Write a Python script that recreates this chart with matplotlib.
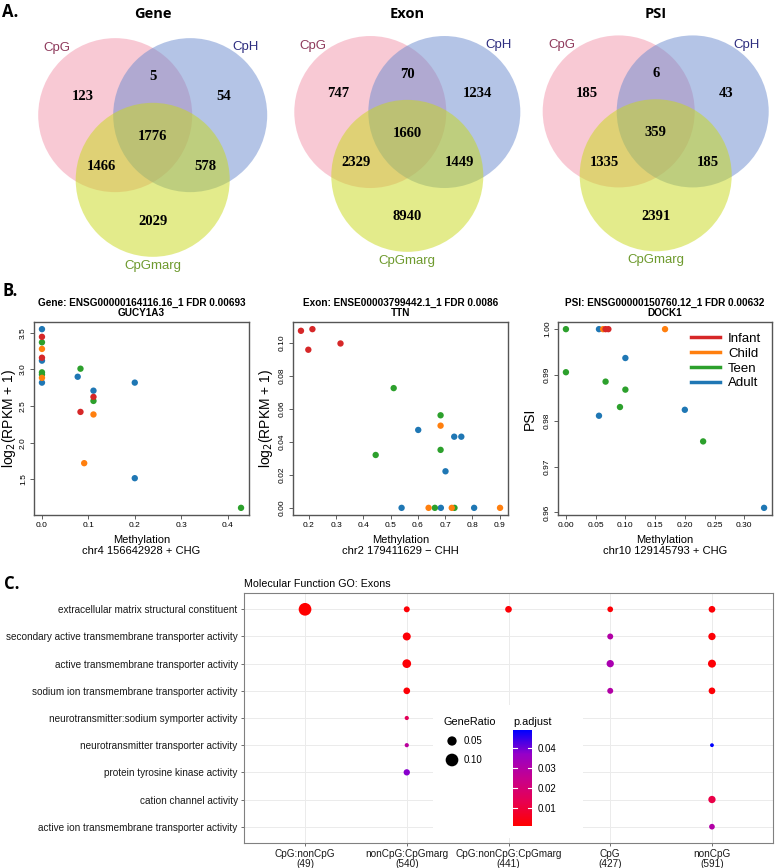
import matplotlib.pyplot as plt
import matplotlib as mpl
from matplotlib.patches import Circle
from matplotlib.lines import Line2D
from matplotlib.colors import LinearSegmentedColormap, Normalize

plt.rcParams['font.family'] = ['Liberation Sans', 'DejaVu Sans']

# ---------------- data ----------------
# Panel A: Venn counts, order: CpG only, CpG&CpH, CpH only, all three,
# CpG&CpGmarg, CpH&CpGmarg, CpGmarg only
venn_sets = ['CpG', 'CpH', 'CpGmarg']
venn_titles = ['Gene', 'Exon', 'PSI']
gene_counts = [123, 5, 54, 1776, 1466, 578, 2029]
exon_counts = [747, 70, 1234, 1660, 2329, 1449, 8940]
psi_counts = [185, 6, 43, 359, 1335, 185, 2391]

# Panel B: methylation vs expression, per age group
group_names = ['Infant', 'Child', 'Teen', 'Adult']
group_colors = ['#D62728', '#FF7F0E', '#2CA02C', '#1F77B4']

gene_x = {'Infant': [0, 0, 0.111, 0.083],
          'Child': [0, 0, 0.111, 0.091],
          'Teen': [0, 0, 0, 0.083, 0.111, 0.429],
          'Adult': [0, 0, 0, 0.077, 0.111, 0.2, 0.2]}
gene_y = {'Infant': [3.445, 3.16, 2.625, 2.42],
          'Child': [3.28, 2.885, 2.385, 1.72],
          'Teen': [3.37, 2.96, 2.93, 3.01, 2.57, 1.11],
          'Adult': [3.55, 3.12, 2.82, 2.90, 2.71, 2.82, 1.515]}

exon_x = {'Infant': [0.171, 0.213, 0.198, 0.316],
          'Child': [0.683, 0.639, 0.724, 0.901],
          'Teen': [0.511, 0.445, 0.683, 0.683, 0.662, 0.734],
          'Adult': [0.601, 0.733, 0.759, 0.701, 0.540, 0.684, 0.806]}
exon_y = {'Infant': [0.1075, 0.1085, 0.096, 0.0998],
          'Child': [0.0499, 0.0, 0.0, 0.0],
          'Teen': [0.0727, 0.0321, 0.0562, 0.0352, 0.0, 0.0],
          'Adult': [0.0473, 0.0432, 0.0432, 0.0222, 0.0, 0.0, 0.0]}

psi_x = {'Infant': [0.0667, 0.0714],
         'Child': [0.0625, 0.1667],
         'Teen': [0, 0, 0.0667, 0.1, 0.0909, 0.2308],
         'Adult': [0.0556, 0.1, 0.0556, 0.2, 0.3333]}
psi_y = {'Infant': [1.0, 1.0],
         'Child': [1.0, 1.0],
         'Teen': [1.0, 0.9906, 0.98855, 0.9868, 0.983, 0.9755],
         'Adult': [1.0, 0.9937, 0.9811, 0.9824, 0.961]}

# Panel C: GO dot plot
go_terms = ['extracellular matrix structural constituent',
            'secondary active transmembrane transporter activity',
            'active transmembrane transporter activity',
            'sodium ion transmembrane transporter activity',
            'neurotransmitter:sodium symporter activity',
            'neurotransmitter transporter activity',
            'protein tyrosine kinase activity',
            'cation channel activity',
            'active ion transmembrane transporter activity']
clusters = ['CpG:nonCpG\n(49)', 'nonCpG:CpGmarg\n(540)', 'CpG:nonCpG:CpGmarg\n(441)',
            'CpG\n(427)', 'nonCpG\n(591)']
dot_cluster = [0, 1, 2, 3, 4, 1, 3, 4, 1, 3, 4, 1, 3, 4, 1, 1, 4, 1, 4, 4]
dot_term = [0, 0, 0, 0, 0, 1, 1, 1, 2, 2, 2, 3, 3, 3, 4, 5, 5, 6, 7, 8]
dot_ratio = [0.10, 0.016, 0.022, 0.014, 0.022,
             0.035, 0.016, 0.028,
             0.043, 0.028, 0.035,
             0.022, 0.016, 0.022,
             0.004, 0.004, 0.002, 0.019, 0.028, 0.014]
dot_padj = [0.001, 0.002, 0.002, 0.002, 0.002,
            0.002, 0.030, 0.002,
            0.002, 0.032, 0.002,
            0.002, 0.030, 0.002,
            0.015, 0.028, 0.049, 0.038, 0.012, 0.030]

# ---------------- figure ----------------
W, H = 776, 868
fig = plt.figure(figsize=(W / 100, H / 100), dpi=100)


def px_axes(l, t, r, b):
    return fig.add_axes([l / W, 1 - b / H, (r - l) / W, (b - t) / H])


canvas = px_axes(0, 0, W, H)
canvas.set_xlim(0, W)
canvas.set_ylim(H, 0)
canvas.axis('off')

# ---- A: Venn diagrams ----
set_fill = ['#F394AA', '#6A8BCF', '#C8D918']
set_text = ['#8E3A5C', '#2E2E80', '#6E9A2E']
circle_off = [(-0.487, 0.28), (0.487, 0.28), (0.0, -0.56)]
region_off = [(-0.91, 0.52), (0, 0.78), (0.92, 0.52), (0, 0.0),
              (-0.67, -0.39), (0.69, -0.39), (0, -1.1)]
label_off = [(-1.24, 1.15), (1.2, 1.16), (0, -1.68)]
venn_centres = [(152.7, 136.7, 77), (407.3, 133.3, 76), (655.7, 132.7, 76)]

for title, counts, (cx, cy, r) in zip(venn_titles, [gene_counts, exon_counts, psi_counts],
                                      venn_centres):
    for (dx, dy), col in zip(circle_off, set_fill):
        canvas.add_patch(Circle((cx + dx * r, cy - dy * r), r, facecolor=col,
                                edgecolor='none', alpha=0.5))
    for (dx, dy), n in zip(region_off, counts):
        canvas.text(cx + dx * r, cy - dy * r, str(n), ha='center', va='center',
                    fontsize=10.5, fontweight='bold', family='Liberation Serif')
    for (dx, dy), name, col in zip(label_off, venn_sets, set_text):
        canvas.text(cx + dx * r, cy - dy * r, name, ha='center', va='center',
                    fontsize=9.5, color=col)
    canvas.text(cx, 14, title, ha='center', va='center', fontsize=10.5,
                fontweight='bold', family='Open Sans')

for lbl, (x, y) in zip(['A.', 'B.', 'C.'], [(2, 12), (2, 291), (4, 584)]):
    canvas.text(x, y, lbl, ha='left', va='center', fontsize=12, fontweight='bold',
                family='Open Sans')


# ---- B: scatter panels ----
def scatter_panel(box, xs, ys, title, xlabel, ylabel, xticks, yticks, xfmt, yfmt, ylab_x):
    ax = px_axes(*box)
    for g, c in zip(group_names[::-1], group_colors[::-1]):
        ax.scatter(xs[g], ys[g], s=21, color=c, edgecolors='none', zorder=3)
    allx = [v for g in group_names for v in xs[g]]
    ally = [v for g in group_names for v in ys[g]]
    ex = 0.04 * (max(allx) - min(allx))
    ey = 0.04 * (max(ally) - min(ally))
    ax.set_xlim(min(allx) - ex, max(allx) + ex)
    ax.set_ylim(min(ally) - ey, max(ally) + ey)
    ax.set_xticks(xticks)
    ax.set_xticklabels([xfmt.format(v) for v in xticks])
    ax.set_yticks(yticks)
    ax.set_yticklabels([yfmt.format(v) for v in yticks], rotation=90, va='center')
    ax.tick_params(labelsize=6, length=3, width=0.6, color='#444444', pad=2)
    for s in ax.spines.values():
        s.set_color('#555555')
        s.set_linewidth(1.0)
    ax.set_title(title, fontsize=7.2, fontweight='bold', pad=4, linespacing=1.05)
    ax.set_xlabel(xlabel, fontsize=8, linespacing=1.15)
    ax.xaxis.set_label_coords(0.5, -0.105)
    ax.set_ylabel(ylabel, fontsize=10)
    ax.yaxis.set_label_coords(ylab_x, 0.5)
    return ax


scatter_panel((34, 322, 249, 515), gene_x, gene_y,
              'Gene: ENSG00000164116.16_1 FDR 0.00693\nGUCY1A3',
              'Methylation\nchr4 156642928 + CHG', r'log$_2$(RPKM + 1)',
              [0, 0.1, 0.2, 0.3, 0.4], [1.5, 2.0, 2.5, 3.0, 3.5], '{:.1f}', '{:.1f}', -0.074)
scatter_panel((293, 322, 508, 515), exon_x, exon_y,
              'Exon: ENSE00003799442.1_1 FDR 0.0086\nTTN',
              'Methylation\nchr2 179411629 \u2212 CHH', r'log$_2$(RPKM + 1)',
              [0.2, 0.3, 0.4, 0.5, 0.6, 0.7, 0.8, 0.9], [0, 0.02, 0.04, 0.06, 0.08, 0.10],
              '{:.1f}', '{:.2f}', -0.084)
ax_psi = scatter_panel((558, 322, 772, 515), psi_x, psi_y,
                       'PSI: ENSG00000150760.12_1 FDR 0.00632\nDOCK1',
                       'Methylation\nchr10 129145793 + CHG', 'PSI',
                       [0, 0.05, 0.10, 0.15, 0.20, 0.25, 0.30], [0.96, 0.97, 0.98, 0.99, 1.00],
                       '{:.2f}', '{:.2f}', -0.098)
handles = [Line2D([], [], color=c, lw=2.5) for c in group_colors]
ax_psi.legend(handles, group_names, loc='upper right', frameon=False, fontsize=9.5,
              handlelength=2.2, labelspacing=0.2, borderaxespad=0.4, handletextpad=0.6)

# ---- C: GO dot plot ----
cmap = LinearSegmentedColormap.from_list(
    'redblue', [(0, '#FF0000'), (0.25, '#E8004F'), (0.5, '#C6008E'),
                (0.75, '#9600C8'), (1, '#0000FF')])
norm = Normalize(min(dot_padj), max(dot_padj))


def ratio_size(r):
    return 6 + 775 * r


axc = px_axes(244, 593, 773, 843)
nterm = len(go_terms)
axc.scatter([c + 1 for c in dot_cluster], [nterm - t for t in dot_term],
            s=[ratio_size(r) for r in dot_ratio], c=dot_padj, cmap=cmap, norm=norm,
            edgecolors='none', zorder=3)
axc.set_xlim(0.4, len(clusters) + 0.6)
axc.set_ylim(0.4, nterm + 0.6)
axc.set_xticks(range(1, len(clusters) + 1))
axc.set_xticklabels(clusters, linespacing=1.0)
axc.set_yticks(range(1, nterm + 1))
axc.set_yticklabels(go_terms[::-1])
axc.tick_params(labelsize=7.2, length=2.5, width=0.6, color='#555555',
                labelcolor='#1A1A1A', pad=2)
axc.grid(True, color='#EBEBEB', lw=0.7)
axc.set_axisbelow(True)
for s in axc.spines.values():
    s.set_color('#808080')
    s.set_linewidth(0.8)
axc.set_title('Molecular Function GO: Exons', fontsize=7.7, loc='left', pad=4)

# legend area (white box covering gridlines)
leg = px_axes(433, 705, 583, 838)
leg.set_xlim(433, 583)
leg.set_ylim(838, 705)
leg.set_xticks([])
leg.set_yticks([])
for s in leg.spines.values():
    s.set_visible(False)
leg.text(443, 722, 'GeneRatio', fontsize=7.8, va='center', ha='left')
for v, y in zip([0.05, 0.10], [741, 760]):
    leg.scatter([452], [y], s=ratio_size(v), color='black', edgecolors='none')
    leg.text(464, y, '{:.2f}'.format(v), fontsize=7, va='center', ha='left')
leg.text(513, 722, 'p.adjust', fontsize=7.8, va='center', ha='left')

cb_ax = px_axes(513, 730, 532, 826)
cb_ticks = [0.01, 0.02, 0.03, 0.04]
cb = fig.colorbar(mpl.cm.ScalarMappable(norm=norm, cmap=cmap), cax=cb_ax, ticks=cb_ticks)
cb.outline.set_visible(False)
cb_ax.tick_params(length=0, labelsize=7, pad=4)
cb_ax.set_yticklabels(['{:.2f}'.format(t) for t in cb_ticks])
for t in cb_ticks:
    cb_ax.plot([0, 0.2], [t, t], color='white', lw=0.8, transform=cb_ax.get_yaxis_transform())
    cb_ax.plot([0.8, 1], [t, t], color='white', lw=0.8, transform=cb_ax.get_yaxis_transform())

fig.savefig('out.png', dpi=100)
